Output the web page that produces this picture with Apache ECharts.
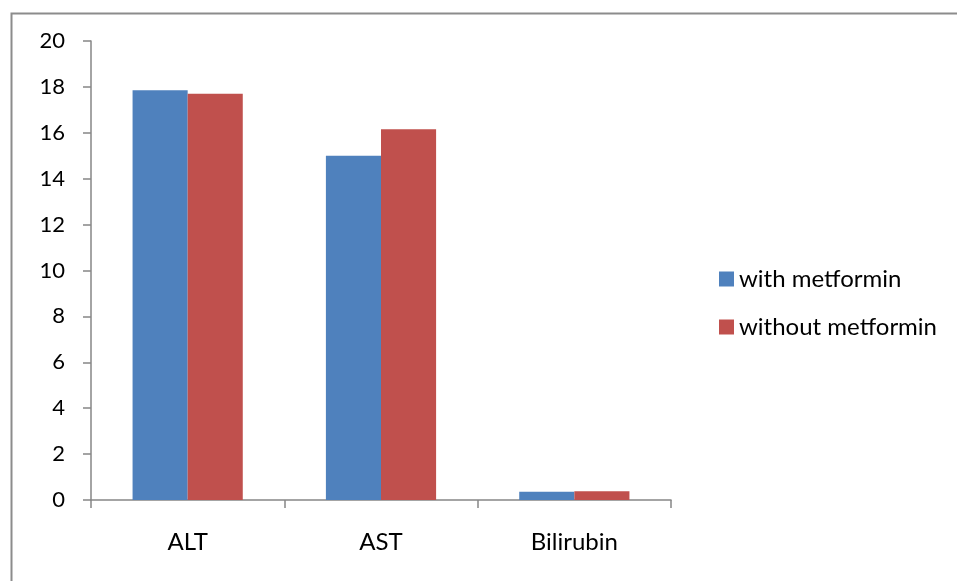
<!DOCTYPE html>
<html>
<head>
<meta charset="utf-8">
<script src="https://cdn.jsdelivr.net/npm/echarts@6/dist/echarts.min.js"></script>
<style>html,body{margin:0;padding:0;background:#fff;}#c{width:957px;height:581px;}</style>
</head>
<body>
<div id="c"></div>
<script>
var categories = ['ALT', 'AST', 'Bilirubin'];
var withMetformin = [17.85, 15.0, 0.36];
var withoutMetformin = [17.7, 16.15, 0.38];
var yTicks = [0, 2, 4, 6, 8, 10, 12, 14, 16, 18, 20];

var chart = echarts.init(document.getElementById('c'));
var FONT = 'Lato, "Open Sans", sans-serif';
chart.setOption({
  animation: false,
  backgroundColor: '#fff',
  graphic: [{
    type: 'rect', left: 9, top: 11,
    shape: {x: 0, y: 0, width: 980, height: 600},
    style: {fill: 'none', stroke: '#8c8c8c', lineWidth: 2},
    silent: true
  }],
  grid: {left: 91, right: 286, top: 41, bottom: 81, containLabel: false},
  legend: {
    orient: 'vertical', left: 714, top: 262,
    itemWidth: 15, itemHeight: 15, itemGap: 24, icon: 'rect',
    textStyle: {fontFamily: FONT, fontSize: 24, lineHeight: 24, color: '#000', padding: [0, 0, 0, 0]},
    data: ['with metformin', 'without metformin']
  },
  xAxis: {
    type: 'category', data: categories,
    axisLine: {lineStyle: {color: '#868686', width: 1.5}},
    axisTick: {show: true, length: 8, alignWithLabel: false, lineStyle: {color: '#868686', width: 1.5}},
    axisLabel: {fontFamily: FONT, fontSize: 24, color: '#000', margin: 30}
  },
  yAxis: {
    type: 'value', min: 0, max: 20, interval: 2,
    axisLine: {show: true, lineStyle: {color: '#868686', width: 1.5}},
    axisTick: {show: true, length: 8, lineStyle: {color: '#868686', width: 1.5}},
    splitLine: {show: false},
    axisLabel: {fontFamily: FONT, fontSize: 22, color: '#000', margin: 26,
      formatter: function (v) { return yTicks.indexOf(v) >= 0 ? String(v) : ''; }}
  },
  series: [
    {name: 'with metformin', type: 'bar', data: withMetformin, barGap: '0%', barCategoryGap: '43%',
     itemStyle: {color: '#4f81bd'}},
    {name: 'without metformin', type: 'bar', data: withoutMetformin, barGap: '0%', barCategoryGap: '43%',
     itemStyle: {color: '#c0504d'}}
  ]
});
</script>
</body>
</html>
